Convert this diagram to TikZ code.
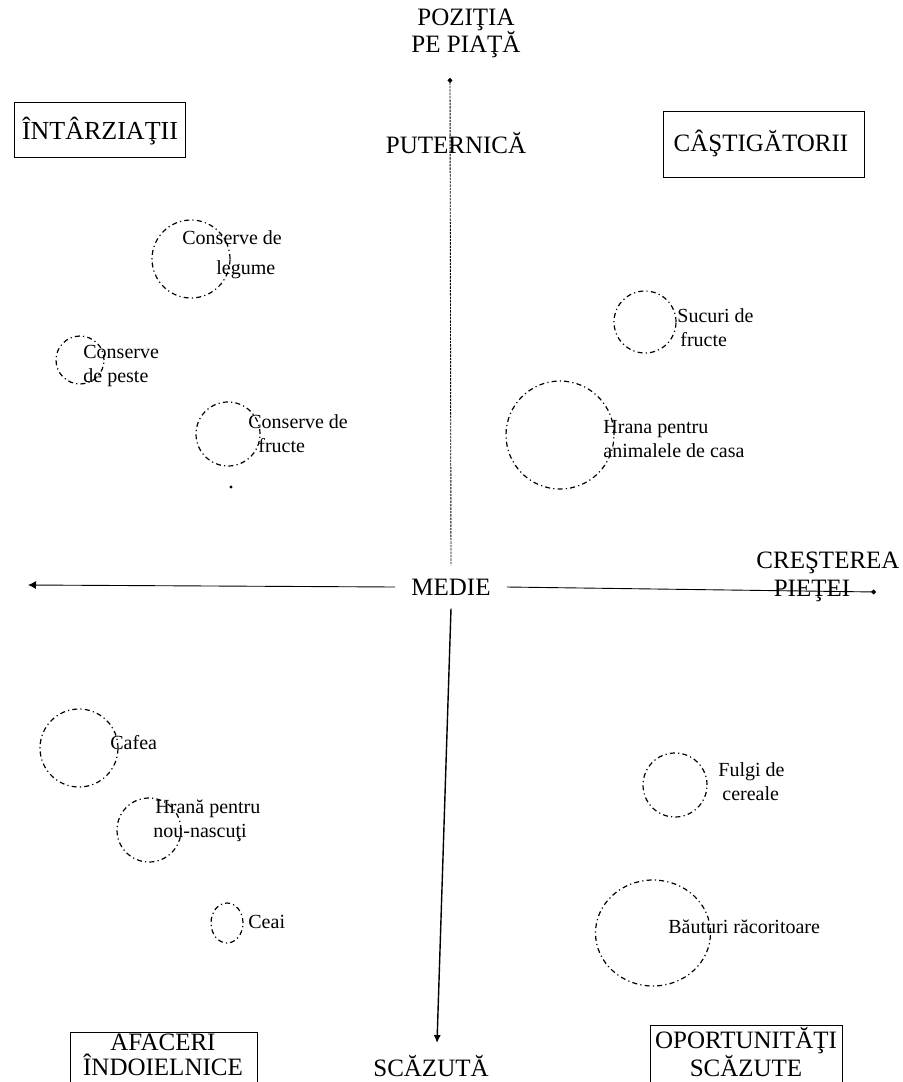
\documentclass[tikz,border=0pt]{standalone}
\usepackage{fontspec}
\setmainfont{Liberation Serif}
\usetikzlibrary{arrows.meta,shapes.geometric}
\begin{document}
\begin{tikzpicture}[x=0.5pt,y=-0.5pt,
  big/.style={font=\fontsize{12.5}{13.5}\selectfont, inner sep=0pt, align=center},
  small/.style={font=\fontsize{10}{12}\selectfont, inner sep=0pt, align=left, anchor=west},
  quad/.style={draw, line width=0.5pt, inner sep=0pt, rectangle},
  bubble/.style={circle, draw, line width=0.6pt, dash pattern=on 2.5pt off 1.6pt on 0.6pt off 1.6pt, inner sep=0pt},
  oval/.style={bubble, ellipse},
  thinaxis/.style={line width=0.45pt},
  upaxis/.style={line width=0.45pt, dash pattern=on 1.2pt off 0.5pt},
  downaxis/.style={line width=0.7pt}]
\useasboundingbox (0,0) rectangle (902,1082);
\clip (0,0) rectangle (902,1082);

% axis titles
\node[big] (poz) at (466,33) {POZIŢIA\\PE PIAŢĂ};
\node[big] (put) at (456,143) {PUTERNICĂ};
\node[big, inner xsep=8pt, inner ysep=6.5pt] (medie) at (451,587) {MEDIE};
\node[big] (scaz) at (431,1066) {SCĂZUTĂ};
\node[big] (cres) at (828,563) {CREŞTEREA};
\node[big] (piet) at (812,591) {PIEŢEI};

% axes
\coordinate (ptop) at (450,78);
\coordinate (pbot) at (437,1043);
\coordinate (pleft) at (28,585);
\coordinate (pright) at (876,592);
\draw[upaxis, {Circle[length=2.4pt]}-] (ptop) -- (medie.north);
\draw[downaxis, -{Latex[length=4pt,width=3.6pt]}] (medie.south) -- (pbot);
\draw[thinaxis, -{Latex[length=4pt,width=4pt]}] (medie.west) -- (pleft);
\draw[thinaxis, -{Circle[length=2.4pt]}] (medie.east) -- (pright);

% quadrant boxes
\node[quad, minimum width=85.5pt, minimum height=27.5pt] (intbox) at (99.5,129.5) {};
\node[big, font=\fontsize{13}{14}\selectfont] (int) at (100,131) {ÎNTÂRZIAŢII};
\node[quad, minimum width=100.5pt, minimum height=33pt] (casbox) at (763.5,144) {};
\node[big] (cas) at (761,143) {CÂŞTIGĂTORII};
\node[quad, minimum width=93.5pt, minimum height=34pt] (afbox) at (163.5,1066) {};
\node[big, font=\fontsize{12.5}{12.5}\selectfont] (af) at (163,1055) {AFACERI\\ÎNDOIELNICE};
\node[quad, minimum width=96pt, minimum height=36pt] (opbox) at (746,1061) {};
\node[big, font=\fontsize{12.5}{10.5}\selectfont] (op) at (746,1052) {OPORTUNITĂŢI\\SCĂZUTE};

% bubbles
\node[bubble, minimum size=39pt] (b1) at (191,259) {};
\node[small, font=\fontsize{10}{15}\selectfont] (t1) at (182,255) {Conserve de\\\hspace*{17pt}legume};
\node[bubble, minimum size=24pt] (b2) at (80,360) {};
\node[small] (t2) at (83,366) {Conserve\\de peste};
\node[bubble, minimum size=32pt] (b3) at (228,434) {};
\node[small] (t3) at (248,434) {Conserve de\\\hspace*{5pt}fructe};
\fill (231,487) circle (0.8pt);
\node[bubble, minimum size=31pt] (b4) at (645,322) {};
\node[small] (t4) at (677,328) {Sucuri de\\\hspace*{1.5pt}fructe};
\node[bubble, minimum size=54pt] (b5) at (560,435) {};
\node[small] (t5) at (603,439) {Hrana pentru\\animalele de casa};
\node[bubble, minimum size=39pt] (b6) at (79,748) {};
\node[small] (t6) at (110,743) {Cafea};
\node[bubble, minimum size=32pt] (b7) at (149,830) {};
\node[small] (t7) at (153,821) {\hspace*{1pt}Hrană pentru\\nou-nascuţi};
\node[oval, minimum width=16pt, minimum height=20pt] (b8) at (227,923) {};
\node[small] (t8) at (248,922) {Ceai};
\node[bubble, minimum size=32pt] (b9) at (675,785) {};
\node[small] (t9) at (718,782) {Fulgi de\\\hspace*{2pt}cereale};
\node[oval, minimum width=57.5pt, minimum height=53pt] (b10) at (653,933) {};
\node[small] (t10) at (668,927) {Băuturi răcoritoare};
\end{tikzpicture}
\end{document}
